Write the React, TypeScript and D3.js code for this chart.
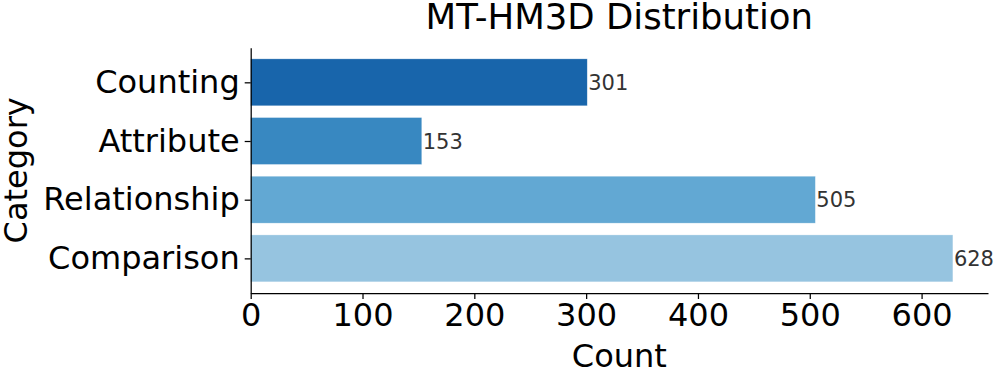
import React, { useEffect, useRef } from 'react';
import * as d3 from 'd3';

// Chart data
const categories = ['Counting', 'Attribute', 'Relationship', 'Comparison'];
const counts = [301, 153, 505, 628];
const barColors = ['#1865ab', '#3888c1', '#62a8d3', '#96c4e0'];
const xTicks = [0, 100, 200, 300, 400, 500, 600];

const W = 996;
const H = 372;
const FONT = '"DejaVu Sans", sans-serif';

export default function App() {
  const svgRef = useRef<SVGSVGElement>(null);

  useEffect(() => {
    const svg = d3.select(svgRef.current);
    svg.selectAll('*').remove();

    const margin = { top: 47.7, right: 8, bottom: 79, left: 250.7 };
    const width = W - margin.left - margin.right;
    const height = H - margin.top - margin.bottom;

    const maxVal = d3.max(counts) as number;
    // matplotlib style 5% margin on the value axis
    const x = d3.scaleLinear().domain([0, maxVal * 1.05]).range([0, width]);

    // bars of height 0.8 at integer positions, with 5% padding of the data span
    const span = categories.length - 1 + 0.8;
    const pad = span * 0.05;
    const y = d3
      .scaleLinear()
      .domain([-0.4 - pad, categories.length - 1 + 0.4 + pad])
      .range([0, height]);
    const bandH = y(0.8) - y(0);

    const g = svg.append('g').attr('transform', `translate(${margin.left},${margin.top})`);

    // bars
    g.selectAll('.bar')
      .data(categories)
      .enter()
      .append('rect')
      .attr('class', 'bar')
      .attr('x', 0)
      .attr('y', (d, i) => y(i) - bandH / 2)
      .attr('width', (d, i) => x(counts[i]))
      .attr('height', bandH)
      .attr('fill', (d, i) => barColors[i])
      .attr('stroke', '#ffffff')
      .attr('stroke-opacity', 0.5)
      .attr('stroke-width', 0.6);

    // value labels
    g.selectAll('.val')
      .data(categories)
      .enter()
      .append('text')
      .attr('x', (d, i) => x(counts[i]) + 1)
      .attr('y', (d, i) => y(i))
      .attr('dy', '0.36em')
      .attr('font-family', FONT)
      .attr('font-size', 21)
      .attr('fill', '#333333')
      .text((d, i) => counts[i]);

    // x axis
    const xAxis = g
      .append('g')
      .attr('transform', `translate(0,${height})`)
      .call(d3.axisBottom(x).tickValues(xTicks).tickSize(6).tickSizeOuter(0).tickPadding(4));
    xAxis.select('.domain').attr('stroke', '#000').attr('stroke-width', 1.25);
    xAxis.selectAll('.tick line').attr('stroke', '#000').attr('stroke-width', 1.25);
    xAxis
      .selectAll('.tick text')
      .attr('font-family', FONT)
      .attr('font-size', 32)
      .attr('fill', '#000');

    // y axis
    const yAxis = g
      .append('g')
      .call(
        d3
          .axisLeft(y)
          .tickValues(d3.range(categories.length))
          .tickFormat((d) => categories[d as number])
          .tickSize(6)
          .tickSizeOuter(0)
          .tickPadding(5)
      );
    yAxis.select('.domain').attr('stroke', '#000').attr('stroke-width', 1.25);
    yAxis.selectAll('.tick line').attr('stroke', '#000').attr('stroke-width', 1.25);
    yAxis
      .selectAll('.tick text')
      .attr('font-family', FONT)
      .attr('font-size', 32)
      .attr('fill', '#000');

    // title
    svg
      .append('text')
      .attr('x', margin.left + width / 2)
      .attr('y', 28.5)
      .attr('text-anchor', 'middle')
      .attr('font-family', FONT)
      .attr('font-size', 35.5)
      .attr('fill', '#000')
      .text('MT-HM3D Distribution');

    // axis labels
    svg
      .append('text')
      .attr('x', margin.left + width / 2)
      .attr('y', 366.5)
      .attr('text-anchor', 'middle')
      .attr('font-family', FONT)
      .attr('font-size', 32)
      .attr('fill', '#000')
      .text('Count');

    svg
      .append('text')
      .attr('transform', `translate(27,${margin.top + height / 2}) rotate(-90)`)
      .attr('text-anchor', 'middle')
      .attr('font-family', FONT)
      .attr('font-size', 32)
      .attr('fill', '#000')
      .text('Category');
  }, []);

  return (
    <svg
      ref={svgRef}
      width={W}
      height={H}
      style={{ position: 'absolute', left: 0, top: 0, background: '#fff' }}
    />
  );
}
